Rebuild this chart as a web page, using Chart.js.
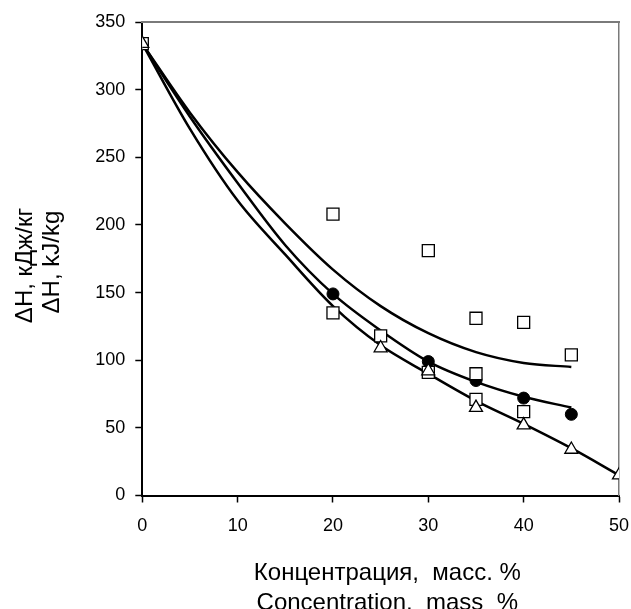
<!DOCTYPE html>
<html lang="ru">
<head>
    <meta charset="UTF-8">
    <title>ΔH vs concentration</title>
    <style>
        body {
            margin: 0;
            background: #ffffff;
        }
        #wrap {
            width: 631px;
            height: 609px;
        }
    </style>
    <script src="https://cdn.jsdelivr.net/npm/chart.js"></script>
</head>
<body>
    <div id="wrap"><canvas id="chart" width="631" height="609"></canvas></div>

    <script>
        // Точки (квадраты, кружки, треугольники)
        const squareX = [0, 20, 20, 25, 30, 30, 35, 35, 35, 40, 40, 45];
        const squareY = [334, 208, 135, 118, 91, 181, 131, 90, 71, 128, 62, 104];

        const circleX = [0, 20, 30, 35, 40, 45];
        const circleY = [334, 149, 99, 85, 72, 60];

        const triangleX = [0, 25, 30, 35, 40, 45, 50];
        const triangleY = [334, 109, 92, 65, 52, 34, 15];

        // Линии тренда
        const curveX = [0, 5, 10, 15, 20, 25, 30, 35, 40, 45];
        const upperCurve = [334, 283, 239, 201, 167, 140, 120, 106, 98, 95];
        const middleCurve = [334, 280, 231, 185, 149, 122, 99, 84, 73, 65];

        const lowerCurveX = [0, 5, 10, 15, 20, 25, 30, 35, 40, 45, 50];
        const lowerCurve = [334, 271, 218, 178, 140, 111, 90, 70, 53, 35, 15];

        const xTicks = [0, 10, 20, 30, 40, 50];
        const yTicks = [0, 50, 100, 150, 200, 250, 300, 350];

        // пробелы по краям слегка сдвигают подписи, как в оригинале
        const xTitle = ['  Концентрация,  масс. %', '  Concentration,  mass  %'];
        const yTitle = ['ΔH, кДж/кг  ', 'ΔH, kJ/kg '];

        const FONT = 'Liberation Sans, Arial, sans-serif';

        function toPoints(xs, ys) {
            return xs.map((x, i) => ({ x: x, y: ys[i] }));
        }

        function curve(xs, ys) {
            return {
                data: toPoints(xs, ys),
                showLine: true,
                borderColor: '#000000',
                borderWidth: 2.5,
                pointRadius: 0,
                cubicInterpolationMode: 'monotone',
                order: 10
            };
        }

        const ctx = document.getElementById('chart').getContext('2d');
        new Chart(ctx, {
            type: 'scatter',
            data: {
                datasets: [
                    curve(curveX, upperCurve),
                    curve(curveX, middleCurve),
                    curve(lowerCurveX, lowerCurve),
                    {
                        data: toPoints(circleX, circleY),
                        pointStyle: 'circle',
                        pointRadius: 6,
                        backgroundColor: '#000000',
                        borderColor: '#000000',
                        borderWidth: 1,
                        order: 3
                    },
                    {
                        data: toPoints(squareX, squareY),
                        pointStyle: 'rect',
                        pointRadius: 8.5,
                        backgroundColor: '#ffffff',
                        borderColor: '#000000',
                        borderWidth: 1.3,
                        order: 2
                    },
                    {
                        data: toPoints(triangleX, triangleY),
                        pointStyle: 'triangle',
                        pointRadius: 7.5,
                        backgroundColor: '#ffffff',
                        borderColor: '#000000',
                        borderWidth: 1.3,
                        order: 1
                    }
                ]
            },
            options: {
                responsive: false,
                animation: false,
                layout: {
                    autoPadding: false,
                    padding: { top: 22, right: 12, bottom: 0, left: 0 }
                },
                plugins: {
                    legend: { display: false },
                    tooltip: { enabled: false }
                },
                scales: {
                    x: {
                        type: 'linear',
                        min: 0,
                        max: 50,
                        afterBuildTicks: axis => { axis.ticks = xTicks.map(v => ({ value: v })); },
                        afterFit: axis => {
                            axis.height = 113.5;
                            axis.paddingLeft = 0;
                            axis.paddingRight = 0;
                        },
                        ticks: {
                            color: '#000000',
                            font: { family: FONT, size: 18 },
                            padding: 13,
                            maxRotation: 0
                        },
                        grid: {
                            drawOnChartArea: false,
                            tickLength: 7,
                            tickWidth: 1.5,
                            tickColor: '#000000'
                        },
                        border: { color: '#000000', width: 2 },
                        title: {
                            display: true,
                            text: xTitle,
                            color: '#000000',
                            font: { family: FONT, size: 24, lineHeight: 1.25 },
                            padding: { top: 0, bottom: -9 }
                        }
                    },
                    y: {
                        type: 'linear',
                        min: 0,
                        max: 350,
                        afterBuildTicks: axis => { axis.ticks = yTicks.map(v => ({ value: v })); },
                        afterFit: axis => {
                            axis.width = 142.3;
                            axis.paddingTop = 0;
                            axis.paddingBottom = 0;
                        },
                        ticks: {
                            color: '#000000',
                            font: { family: FONT, size: 18 },
                            padding: 10
                        },
                        grid: {
                            drawOnChartArea: false,
                            tickLength: 7,
                            tickWidth: 1.5,
                            tickColor: '#000000'
                        },
                        border: { color: '#000000', width: 2 },
                        title: {
                            display: true,
                            text: yTitle,
                            color: '#000000',
                            font: { family: FONT, size: 24, lineHeight: 1.12 },
                            padding: { top: 12, bottom: 0 }
                        }
                    },
                    xTop: {
                        type: 'linear',
                        position: 'top',
                        min: 0,
                        max: 50,
                        afterFit: axis => { axis.height = 0; },
                        ticks: { display: false },
                        grid: { drawOnChartArea: false, drawTicks: false },
                        border: { color: '#7a7a7a', width: 2 }
                    },
                    yRight: {
                        type: 'linear',
                        position: 'right',
                        min: 0,
                        max: 350,
                        afterFit: axis => { axis.width = 0; },
                        ticks: { display: false },
                        grid: { drawOnChartArea: false, drawTicks: false },
                        border: { color: '#7a7a7a', width: 1.5 }
                    }
                }
            }
        });
    </script>
</body>
</html>
